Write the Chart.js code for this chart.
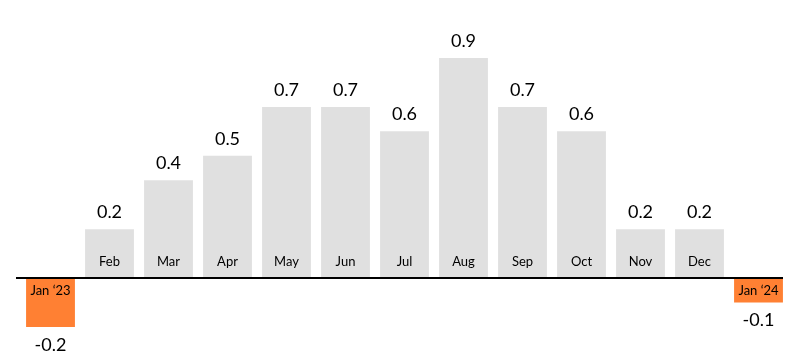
<!DOCTYPE html>
<html>
<head>
<meta charset="utf-8">
<script src="https://cdn.jsdelivr.net/npm/chart.js@4/dist/chart.umd.min.js"></script>
<style>
  html, body { margin: 0; padding: 0; background: #fff; }
  #wrap { width: 800px; height: 364px; position: relative; }
</style>
</head>
<body>
<div id="wrap"><canvas id="chart"></canvas></div>
<script>
// Monthly change, Jan '23 to Jan '24
const months = ['Jan \u201823', 'Feb', 'Mar', 'Apr', 'May', 'Jun', 'Jul', 'Aug', 'Sep', 'Oct', 'Nov', 'Dec', 'Jan \u201824'];
const changes = [-0.2, 0.2, 0.4, 0.5, 0.7, 0.7, 0.6, 0.9, 0.7, 0.6, 0.2, 0.2, -0.1];

const GREY = '#e0e0e0';
const ORANGE = '#ff8033';
const FONT = "Lato, 'Open Sans', sans-serif";

// Draws the zero line, month names inside the bars and values outside them
const labelPlugin = {
  id: 'barLabels',
  afterDatasetsDraw(chart) {
    const ctx = chart.ctx;
    const y0 = chart.scales.y.getPixelForValue(0);

    ctx.save();
    ctx.strokeStyle = '#000';
    ctx.lineWidth = 2;
    ctx.beginPath();
    ctx.moveTo(16, y0);
    ctx.lineTo(783, y0);
    ctx.stroke();

    ctx.textAlign = 'center';
    ctx.textBaseline = 'middle';
    chart.getDatasetMeta(0).data.forEach((bar, i) => {
      const v = changes[i];
      ctx.fillStyle = '#000';
      ctx.font = '13px ' + FONT;
      if (v >= 0) {
        ctx.fillText(months[i], bar.x, y0 - 16);
        ctx.font = '18px ' + FONT;
        ctx.fillText(v.toFixed(1), bar.x, bar.y - 17);
      } else {
        ctx.fillText(months[i], bar.x, y0 + 13);
        ctx.font = '18px ' + FONT;
        ctx.fillText(v.toFixed(1), bar.x, bar.y + 18);
      }
    });
    ctx.restore();
  }
};

new Chart(document.getElementById('chart'), {
  type: 'bar',
  data: {
    labels: months,
    datasets: [{
      data: changes,
      backgroundColor: changes.map(v => v < 0 ? ORANGE : GREY),
      borderWidth: 0,
      barPercentage: 0.9,
      categoryPercentage: 0.92
    }]
  },
  plugins: [labelPlugin],
  options: {
    responsive: true,
    maintainAspectRatio: false,
    animation: false,
    layout: { padding: { top: 58, bottom: 37, left: 21, right: 12 } },
    scales: {
      x: { display: false },
      y: { display: false, min: -0.2, max: 0.9 }
    },
    plugins: {
      legend: { display: false },
      tooltip: { enabled: false }
    }
  }
});
</script>
</body>
</html>
